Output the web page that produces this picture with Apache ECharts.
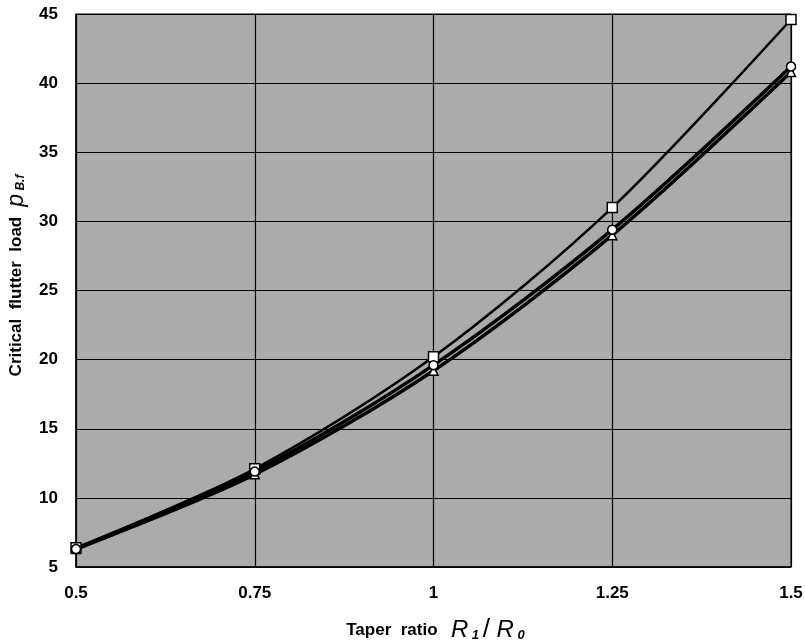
<!DOCTYPE html>
<html>
<head>
<meta charset="utf-8">
<script src="https://cdn.jsdelivr.net/npm/echarts@6/dist/echarts.min.js"></script>
<style>
  html, body { margin: 0; padding: 0; background: #fff; }
  #chart { width: 805px; height: 641px; }
</style>
</head>
<body>
<div id="chart"></div>
<script>
// taper ratio R1/R0
var taperRatio = [0.5, 0.75, 1, 1.25, 1.5];
// critical flutter load, three cases
var loadSquare   = [6.4, 12.1, 20.2, 31.0, 44.6];
var loadCircle   = [6.3, 11.9, 19.6, 29.4, 41.2];
var loadTriangle = [6.3, 11.7, 19.2, 29.0, 40.8];

function pairs(ys) {
  var out = [];
  for (var i = 0; i < taperRatio.length; i++) out.push([taperRatio[i], ys[i]]);
  return out;
}

var myChart = echarts.init(document.getElementById('chart'));
var ff = 'Liberation Sans, Arial';
var labelFont = { color: '#000', fontSize: 17, fontFamily: ff, fontWeight: 'bold' };

var option = {
  backgroundColor: '#fff',
  animation: false,
  grid: {
    left: 76, right: 14, top: 14, bottom: 74,
    outerBoundsMode: 'none', containLabel: false,
    show: true, backgroundColor: '#ababab', borderColor: '#000', borderWidth: 1
  },
  xAxis: {
    type: 'value', min: 0.5, max: 1.5, interval: 0.25,
    axisLine: { show: true, lineStyle: { color: '#000', width: 1.5 } },
    axisTick: { show: false },
    splitLine: { show: true, lineStyle: { color: '#000', width: 1.2 } },
    axisLabel: Object.assign({ margin: 18, formatter: function (v) { return String(v); } }, labelFont),
    name: '{n|Taper  ratio}    {r|R}{s| 1 }{sl|/}{r| R}{s| 0}',
    nameLocation: 'middle', nameGap: 50,
    nameTextStyle: {
      padding: [0, 0, 0, 4],
      rich: {
        n: { fontSize: 17, fontWeight: 'bold', fontFamily: ff, color: '#000' },
        r: { fontSize: 24, fontStyle: 'italic', fontFamily: ff, color: '#000' },
        sl: { fontSize: 26, fontFamily: ff, color: '#000' },
        s: { fontSize: 13, fontStyle: 'italic', fontWeight: 'bold', fontFamily: ff, color: '#000', padding: [10, 0, 0, 0] }
      }
    }
  },
  yAxis: {
    type: 'value', min: 5, max: 45, interval: 5,
    axisLine: { show: true, lineStyle: { color: '#000', width: 1.5 } },
    axisTick: { show: false },
    splitLine: { show: true, lineStyle: { color: '#000', width: 1.2 } },
    axisLabel: Object.assign({ margin: 18 }, labelFont),
    name: '{n|Critical  flutter  load}   {p|p}{s| B.f}',
    nameLocation: 'middle', nameGap: 46,
    nameTextStyle: {
      padding: [0, 0, 0, 30],
      rich: {
        n: { fontSize: 17, fontWeight: 'bold', fontFamily: ff, color: '#000' },
        p: { fontSize: 23, fontStyle: 'italic', fontFamily: ff, color: '#000' },
        s: { fontSize: 12, fontStyle: 'italic', fontWeight: 'bold', fontFamily: ff, color: '#000', padding: [8, 0, 0, 0] }
      }
    }
  },
  series: [
    {
      name: 'square', type: 'line', smooth: 0.3, data: pairs(loadSquare),
      symbol: 'rect', symbolSize: 10,
      lineStyle: { color: '#000', width: 2.5 },
      itemStyle: { color: '#fff', borderColor: '#000', borderWidth: 1.5 }
    },
    {
      name: 'triangle', type: 'line', smooth: 0.3, data: pairs(loadTriangle),
      symbol: 'triangle', symbolSize: 9,
      lineStyle: { color: '#000', width: 3.5 },
      itemStyle: { color: '#fff', borderColor: '#000', borderWidth: 1.5 }
    },
    {
      name: 'circle', type: 'line', smooth: 0.3, data: pairs(loadCircle),
      symbol: 'circle', symbolSize: 9,
      lineStyle: { color: '#000', width: 3.5 },
      itemStyle: { color: '#fff', borderColor: '#000', borderWidth: 1.5 }
    }
  ]
};
myChart.setOption(option);
</script>
</body>
</html>
